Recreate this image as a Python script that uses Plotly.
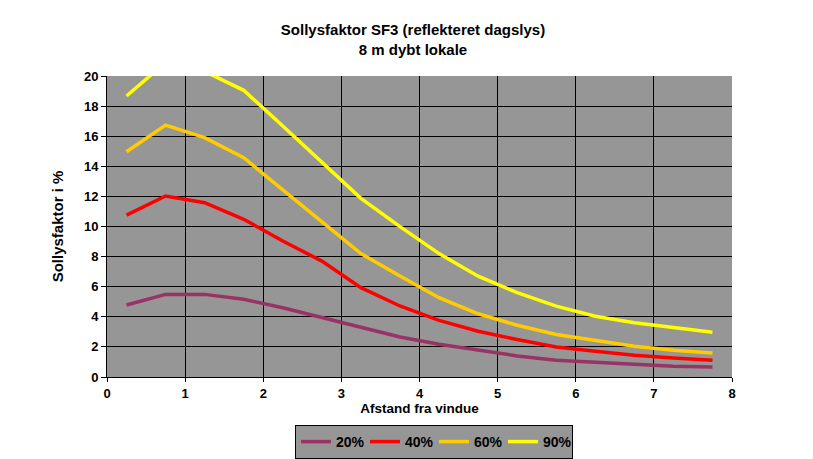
import plotly.graph_objects as go

# Afstand fra vindue (m) og sollysfaktor i % for hver reflektans
afstand = [0.25, 0.75, 1.25, 1.75, 2.25, 2.75, 3.25, 3.75,
           4.25, 4.75, 5.25, 5.75, 6.25, 6.75, 7.25, 7.75]
sf_20 = [4.78, 5.49, 5.49, 5.16, 4.6, 3.94, 3.28, 2.66,
         2.18, 1.78, 1.4, 1.11, 0.96, 0.82, 0.71, 0.67]
sf_40 = [10.76, 12.03, 11.58, 10.48, 9.04, 7.7, 5.94, 4.72,
         3.76, 3.04, 2.49, 2.0, 1.71, 1.44, 1.27, 1.11]
sf_60 = [14.97, 16.74, 15.9, 14.57, 12.43, 10.32, 8.2, 6.71,
         5.27, 4.2, 3.44, 2.82, 2.42, 2.04, 1.78, 1.6]
sf_90 = [18.67, 20.9, 20.3, 19.05, 16.68, 14.3, 11.87, 9.99,
         8.2, 6.7, 5.6, 4.71, 4.04, 3.6, 3.27, 2.98]

serier = ['20%', '40%', '60%', '90%']
farver = ['#993366', '#FF0000', '#FFCC00', '#FFFF00']

fig = go.Figure()
for navn, y, farve in zip(serier, [sf_20, sf_40, sf_60, sf_90], farver):
    fig.add_trace(go.Scatter(x=afstand, y=y, mode='lines', name='<b>' + navn + '</b>',
                             line=dict(color=farve, width=3.5)))

# siden har 8 px body-margin, så alt flyttes lidt op/til venstre
font = dict(family='Liberation Sans, Arial', size=13, color='black')
fig.update_layout(
    width=813, height=459,
    margin=dict(l=99, r=89, t=68, b=90, autoexpand=False),
    paper_bgcolor='white',
    plot_bgcolor='#969696',
    font=font,
    title=dict(text='<b>Sollysfaktor SF3 (reflekteret dagslys)<br>8 m dybt lokale</b>',
               x=405 / 813, xref='container', xanchor='center',
               y=1 - 27 / 459, yref='container', yanchor='top',
               font=dict(family='Liberation Sans, Arial', size=15)),
    showlegend=True,
    legend=dict(orientation='h', xref='container', yref='container',
                x=426 / 813, xanchor='center', y=1 - 417 / 459, yanchor='top',
                bgcolor='#969696', bordercolor='black', borderwidth=1,
                font=dict(family='Liberation Sans, Arial', size=14),
                itemwidth=30, traceorder='normal',
                entrywidth=24, entrywidthmode='pixels',
                tracegroupgap=0, valign='middle'),
)
fig.update_xaxes(range=[0, 8], dtick=1, tick0=0, automargin=False,
                 showgrid=True, gridcolor='black', gridwidth=1,
                 showline=True, linecolor='black', linewidth=1,
                 ticks='outside', ticklen=4, tickcolor='black',
                 zeroline=False, tickprefix='<b>', ticksuffix='</b>',
                 title=dict(text='<b>Afstand fra vindue</b>', standoff=3,
                            font=dict(size=13.5)))
fig.update_yaxes(range=[0, 20], dtick=2, tick0=0, automargin=False,
                 showgrid=True, gridcolor='black', gridwidth=1,
                 showline=True, linecolor='black', linewidth=1,
                 ticks='outside', ticklen=5, tickcolor='black',
                 zeroline=False, tickprefix='<b>', ticksuffix='</b>',
                 title=dict(text='<b>Sollysfaktor i %</b>', standoff=16,
                            font=dict(size=15)))

fig.write_html("out.html")
